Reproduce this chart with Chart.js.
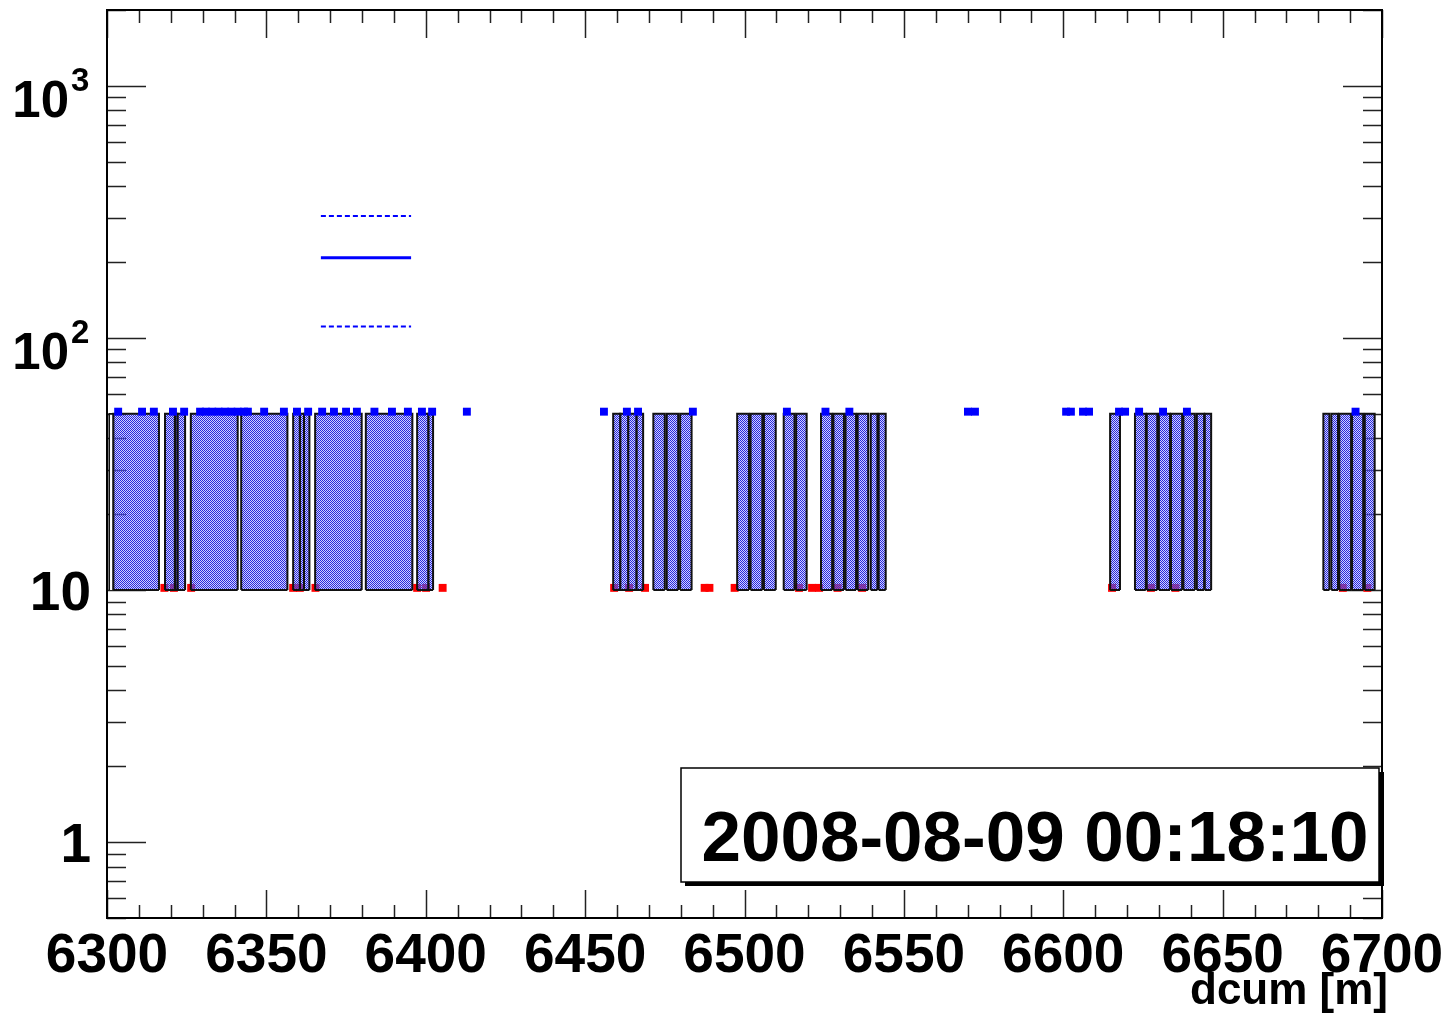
<!DOCTYPE html>
<html>
<head>
<meta charset="UTF-8" />
<title>dcum 2008-08-09 00:18:10</title>
<style type="text/css">
  body { margin: 0; background: #fff; }
  .chartBox { width: 1450px; height: 1014px; }
</style>
</head>
<body>
<div class="chartBox">
  <canvas id="myChart" width="1450" height="1014"></canvas>
</div>
<script src="https://cdn.jsdelivr.net/npm/chart.js"></script>
<script>
// boxes: left / right edge in dcum [m], each drawn from boxLow to boxHigh
const boxLeft = [6302.0, 6318.2, 6321.3, 6322.1, 6326.3, 6342.1, 6358.4, 6360.5, 6361.8, 6365.3,
  6381.2, 6397.3, 6400.8, 6458.8, 6461.0, 6463.5, 6466.1, 6471.4, 6475.6, 6479.8,
  6497.7, 6501.9, 6506.1, 6512.3, 6516.2, 6524.0, 6527.9, 6531.7, 6535.5, 6539.6,
  6542.1, 6614.7, 6622.5, 6626.2, 6630.0, 6633.8, 6637.7, 6641.9, 6644.4, 6681.6,
  6684.1, 6686.6, 6690.6, 6694.6];
const boxRight = [6316.3, 6321.3, 6322.1, 6324.5, 6341.0, 6356.6, 6360.5, 6361.8, 6363.5, 6379.9,
  6395.8, 6400.8, 6402.3, 6461.0, 6463.5, 6466.1, 6468.2, 6475.0, 6479.2, 6483.4,
  6501.4, 6505.6, 6509.8, 6515.7, 6519.5, 6527.5, 6531.2, 6535.0, 6538.8, 6541.7,
  6544.3, 6617.8, 6625.9, 6629.5, 6633.5, 6637.3, 6641.3, 6644.2, 6646.4, 6683.5,
  6686.2, 6690.3, 6694.1, 6697.7];
const emptyBox = [6300.7, 6302.0];
const boxLow = 10;
const boxHigh = 50;

// blue markers (just above the boxes)
const blueX = [6303.5, 6311, 6314.7, 6320.7, 6324.2, 6329.2, 6331, 6333, 6335, 6337, 6339, 6341, 6343, 6344.2,
  6349.3, 6355.5, 6359.6, 6363.1, 6367.5, 6371.2, 6375, 6378.4, 6383.9, 6389.4, 6394.4, 6398.8, 6402,
  6412.9, 6455.9, 6463.1, 6466.6, 6483.8, 6513.3, 6525.4, 6532.9, 6570.1, 6572.3, 6600.9, 6602.4,
  6606.2, 6608.1, 6617.5, 6619.4, 6623.8, 6631.3, 6638.8, 6691.7];
const blueLevel = 51;

// red markers (at the box bottoms)
const redX = [6318, 6321, 6326.4, 6358.4, 6360.5, 6365.4, 6397.3, 6400.1, 6405.3, 6459.1, 6463.8, 6468.8,
  6487.5, 6489, 6496.9, 6517.1, 6521.2, 6523.4, 6529.2, 6536.9, 6615.3, 6627.5, 6635.2, 6687.7, 6695.4];
const redLevel = 10.2;

// mean and band lines
const bandX = [6367.1, 6395.4];
const bandMid = 208;
const bandUp = 305;
const bandDown = 111;

// axes
const xMin = 6300, xMax = 6700;
const yMin = 0.5, yMax = 2000;
const xTicks = [6300, 6350, 6400, 6450, 6500, 6550, 6600, 6650, 6700];
const yTicks = [1, 10, 100, 1000];
const yTickBase = ['1', '10', '10', '10'];
const yTickExp = ['', '', '2', '3'];
const xTitle = 'dcum [m]';
const stampText = '2008-08-09 00:18:10';

// checkered fill like the ROOT pattern
const pc = document.createElement('canvas');
pc.width = 2; pc.height = 2;
const pctx = pc.getContext('2d');
pctx.fillStyle = 'rgba(150,150,255,0.45)';
pctx.fillRect(0, 0, 2, 2);
pctx.clearRect(0, 0, 1, 1);
pctx.clearRect(1, 1, 1, 1);
pctx.fillStyle = 'rgb(40,40,220)';
pctx.fillRect(0, 0, 1, 1);
pctx.fillRect(1, 1, 1, 1);
const hatch = pctx.createPattern(pc, 'repeat');

// open outline (left, top, right); filled down to boxLow
function boxData(l, r) {
  return [{x: l, y: boxLow}, {x: l, y: boxHigh}, {x: r, y: boxHigh}, {x: r, y: boxLow}];
}

const datasets = [];
datasets.push({
  data: blueX.map(x => ({x: x, y: blueLevel})),
  showLine: false, pointStyle: 'rect', pointRadius: 5.6, pointBorderWidth: 0,
  pointBackgroundColor: '#0000ff', order: 0
});
datasets.push({
  data: [{x: bandX[0], y: bandMid}, {x: bandX[1], y: bandMid}],
  borderColor: '#0000ff', borderWidth: 3, pointRadius: 0, fill: false, order: 0
});
datasets.push({
  data: [{x: bandX[0], y: bandUp}, {x: bandX[1], y: bandUp}],
  borderColor: '#0000ff', borderWidth: 2, borderDash: [5, 3], pointRadius: 0, fill: false, order: 0
});
datasets.push({
  data: [{x: bandX[0], y: bandDown}, {x: bandX[1], y: bandDown}],
  borderColor: '#0000ff', borderWidth: 2, borderDash: [5, 3], pointRadius: 0, fill: false, order: 0
});
// bottom edges of all boxes, broken between boxes
const bottoms = [];
for (let i = 0; i < boxLeft.length; i++) {
  bottoms.push({x: boxLeft[i], y: boxLow}, {x: boxRight[i], y: boxLow}, {x: boxRight[i], y: null});
}
datasets.push({
  data: bottoms, borderColor: '#111', borderWidth: 2, pointRadius: 0,
  fill: false, spanGaps: false, order: 1
});
for (let i = 0; i < boxLeft.length; i++) {
  datasets.push({
    data: boxData(boxLeft[i], boxRight[i]),
    borderColor: '#111', borderWidth: 2, backgroundColor: hatch,
    fill: {value: boxLow}, pointRadius: 0, tension: 0, order: 1
  });
}
datasets.push({
  data: boxData(emptyBox[0], emptyBox[1]),
  borderColor: '#111', borderWidth: 1.6, backgroundColor: '#fff',
  fill: {value: boxLow}, pointRadius: 0, tension: 0, order: 1
});
datasets.push({
  data: redX.map(x => ({x: x, y: redLevel})),
  showLine: false, pointStyle: 'rect', pointRadius: 5.6, pointBorderWidth: 0,
  pointBackgroundColor: '#ff0000', order: 2
});

const FONT = '"Liberation Sans", Arial, sans-serif';

// ROOT-like frame, inward ticks, labels and time stamp box
const rootFrame = {
  id: 'rootFrame',
  beforeDatasetsDraw(chart) {
    const ctx = chart.ctx;
    const a = chart.chartArea;
    const xs = chart.scales.x, ys = chart.scales.y;
    ctx.save();
    ctx.strokeStyle = '#222';
    ctx.lineWidth = 1.5;
    ctx.beginPath();
    // x ticks every 10, major every 50
    for (let v = xMin; v <= xMax; v += 10) {
      const px = Math.round(xs.getPixelForValue(v)) + 0.5;
      const len = (v % 50 === 0) ? 28 : 13;
      ctx.moveTo(px, a.bottom); ctx.lineTo(px, a.bottom - len);
      ctx.moveTo(px, a.top); ctx.lineTo(px, a.top + len);
    }
    // y ticks, decades and 2..9
    for (let d = 0.1; d <= 1000; d *= 10) {
      for (let k = 1; k <= 9; k++) {
        const v = d * k;
        if (v < yMin || v > yMax) continue;
        const py = Math.round(ys.getPixelForValue(v)) + 0.5;
        const len = (k === 1) ? 39 : 19;
        ctx.moveTo(a.left, py); ctx.lineTo(a.left + len, py);
        ctx.moveTo(a.right, py); ctx.lineTo(a.right - len, py);
      }
    }
    ctx.stroke();
    ctx.restore();
  },
  afterDraw(chart) {
    const ctx = chart.ctx;
    const a = chart.chartArea;
    const xs = chart.scales.x, ys = chart.scales.y;
    ctx.save();
    ctx.strokeStyle = '#000';
    ctx.lineWidth = 2;
    ctx.strokeRect(a.left, a.top, a.right - a.left, a.bottom - a.top);

    ctx.fillStyle = '#000';
    ctx.font = 'bold 55px ' + FONT;
    ctx.textAlign = 'center';
    ctx.textBaseline = 'alphabetic';
    xTicks.forEach(v => {
      ctx.fillText(String(v), xs.getPixelForValue(v), 972);
    });

    yTicks.forEach((v, i) => {
      const py = ys.getPixelForValue(v);
      if (yTickExp[i] === '') {
        ctx.font = 'bold 55px ' + FONT;
        ctx.textAlign = 'right';
        ctx.fillText(yTickBase[i], 91, py + 20);
      } else {
        ctx.font = 'bold 51px ' + FONT;
        ctx.textAlign = 'right';
        ctx.fillText(yTickBase[i], 69, py + 31);
        ctx.font = 'bold 33px ' + FONT;
        ctx.textAlign = 'left';
        ctx.fillText(yTickExp[i], 71, py + 5);
      }
    });

    ctx.font = 'bold 44px ' + FONT;
    ctx.textAlign = 'right';
    ctx.fillText(xTitle, 1388, 1004);

    // time stamp box with shadow
    ctx.fillStyle = '#000';
    ctx.fillRect(1379, 772, 5, 114);
    ctx.fillRect(685, 881, 699, 5);
    ctx.fillStyle = '#fff';
    ctx.fillRect(681, 768, 698, 114);
    ctx.lineWidth = 1.5;
    ctx.strokeStyle = '#000';
    ctx.strokeRect(681, 768, 698, 114);
    ctx.fillStyle = '#000';
    ctx.font = 'bold 71px ' + FONT;
    ctx.textAlign = 'center';
    ctx.fillText(stampText, 1035, 861);
    ctx.restore();
  }
};

const config = {
  type: 'line',
  data: { datasets },
  options: {
    responsive: false,
    animation: false,
    layout: { padding: { left: 107, right: 68, top: 10, bottom: 96 } },
    plugins: { legend: { display: false }, tooltip: { enabled: false } },
    scales: {
      x: { type: 'linear', min: xMin, max: xMax, display: false },
      y: { type: 'logarithmic', min: yMin, max: yMax, display: false }
    }
  },
  plugins: [rootFrame]
};

const myChart = new Chart(document.getElementById('myChart'), config);
</script>
</body>
</html>
